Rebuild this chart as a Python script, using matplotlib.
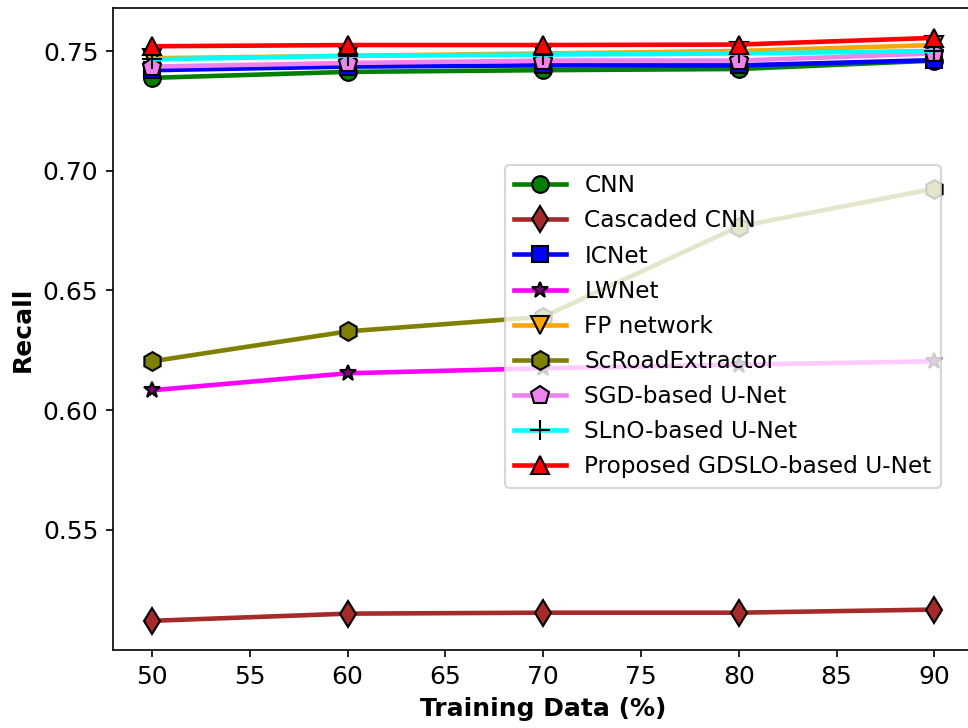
import matplotlib
matplotlib.use("Agg")
import matplotlib.pyplot as plt

x = [50, 60, 70, 80, 90]
cnn = [0.7388, 0.7413, 0.7420, 0.7425, 0.7460]
cascaded = [0.5120, 0.5150, 0.5154, 0.5154, 0.5167]
icnet = [0.7420, 0.7435, 0.7440, 0.7440, 0.7462]
lwnet = [0.6083, 0.6154, 0.6175, 0.6190, 0.6204]
fp = [0.7470, 0.7480, 0.7490, 0.7500, 0.7525]
scroad = [0.6204, 0.6329, 0.6390, 0.6767, 0.6925]
sgd = [0.7435, 0.7450, 0.7460, 0.7460, 0.7490]
slno = [0.7465, 0.7480, 0.7485, 0.7490, 0.7500]
proposed = [0.7520, 0.7525, 0.7525, 0.7527, 0.7555]

labels = ["CNN", "Cascaded CNN", "ICNet", "LWNet", "FP network", "ScRoadExtractor",
          "SGD-based U-Net", "SLnO-based U-Net", "Proposed GDSLO-based U-Net"]
series = [cnn, cascaded, icnet, lwnet, fp, scroad, sgd, slno, proposed]
colors = ["green", "brown", "blue", "magenta", "orange", "olive", "violet", "cyan", "red"]
mfcs = ["green", "brown", "blue", "purple", "orange", "olive", "violet", "black", "red"]
markers = ["o", "d", "s", "*", "v", "h", "p", "+", "^"]
msizes = [8, 9, 8, 8, 9, 9, 9, 10, 9]

fig = plt.figure(figsize=(968/150, 728/150), dpi=150)
ax = fig.add_axes([0.1167, 0.1071, 0.889, 0.882])
for ys, lab, c, mfc, m, ms in zip(series, labels, colors, mfcs, markers, msizes):
    ax.plot(x, ys, color=c, lw=2.2, marker=m, markersize=ms, markerfacecolor=mfc,
            markeredgecolor="black", markeredgewidth=1.0, label=lab)

ax.set_xlim(48, 92)
ax.set_ylim(0.4998, 0.768)
ax.set_xticks([50, 55, 60, 65, 70, 75, 80, 85, 90])
ax.set_yticks([0.55, 0.60, 0.65, 0.70, 0.75])
ax.set_xlabel("Training Data (%)", fontweight="bold", fontsize=12)
ax.set_ylabel("Recall", fontweight="bold", fontsize=12)
ax.tick_params(labelsize=12)
ax.legend(loc="upper left", bbox_to_anchor=(0.5217, 0.7734), bbox_transform=fig.transFigure,
          borderaxespad=0, fontsize=11.2, labelspacing=0.52, handlelength=2.2)
fig.savefig("out.png", dpi=150)
